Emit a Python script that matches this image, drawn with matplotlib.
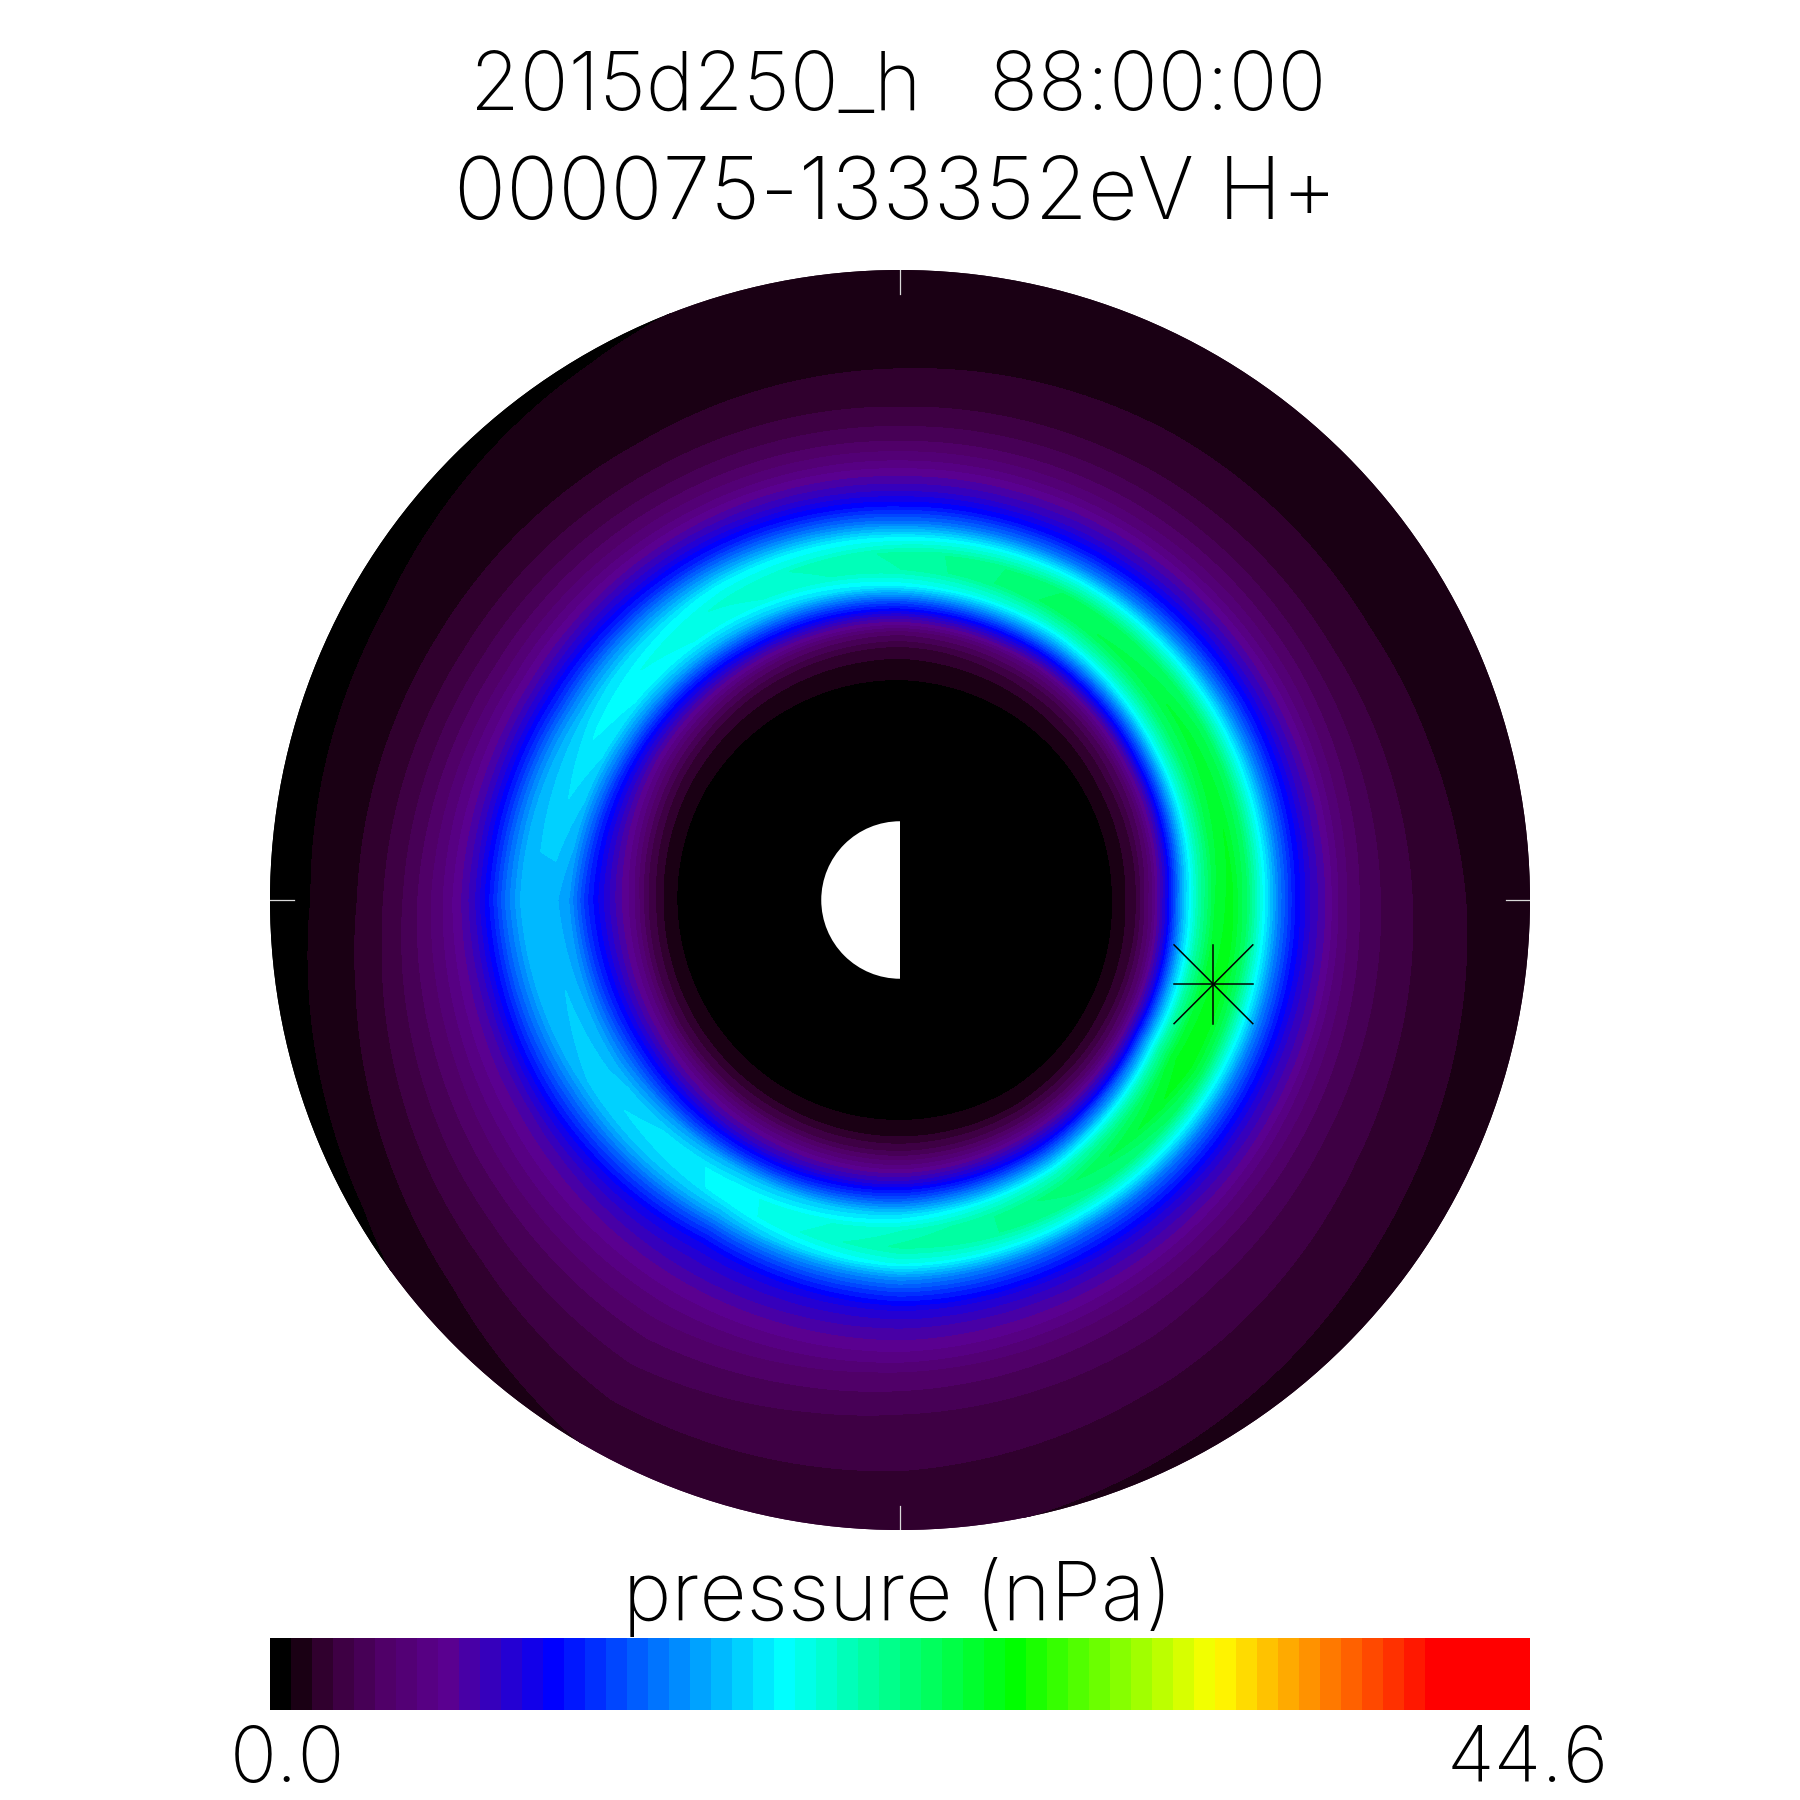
import numpy as np
import matplotlib
matplotlib.use("Agg")
import matplotlib.pyplot as plt
from matplotlib.patches import Circle, Wedge
from matplotlib.path import Path

title1 = "2015d250_h   88:00:00"
title2 = "000075-133352eV H+"
bar_label = "pressure (nPa)"
pmin = 0.0
pmax = 44.6
nlev = 60

# radius in Earth radii
radii = [1, 2, 2.6, 2.8, 3.0, 3.2, 3.4, 3.6, 3.8, 4.0, 4.2, 4.4, 4.6, 4.8, 5.0, 5.2, 5.4, 5.6, 5.8, 6.0, 6.3, 6.6, 7.0, 7.5, 8.0]
angles = [0, 30, 60, 90, 120, 150, 180, 210, 240, 270, 300, 330]

# pressure (nPa) along each angle
p000 = [0, 0, .40, 1.1, 2.2, 5.0, 9.5, 16, 21, 24.5, 25.6, 23, 18.5, 14, 10.5, 8.2, 6.6, 4.8, 3.8, 3.2, 2.5, 2.1, 1.65, 1.2, .90]
p030 = [0, 0, .35, 1.0, 1.9, 3.8, 7.5, 13, 19, 23, 24.8, 23.5, 19, 14.5, 10.8, 8.4, 6.6, 5.0, 3.9, 3.1, 2.3, 1.85, 1.35, 1.05, .85]
p060 = [0, 0, .30, .85, 1.5, 2.7, 5.2, 9.5, 15, 20, 23.5, 23.2, 19, 14, 10.5, 8.2, 6.6, 5.0, 3.9, 3.1, 2.25, 1.8, 1.3, 1.0, .85]
p090 = [0, 0, .30, .74, 1.2, 2.0, 4.0, 7.8, 12.5, 18, 20.8, 21, 17.8, 13.5, 10.2, 8.0, 6.5, 5.0, 3.8, 3.0, 2.1, 1.7, 1.1, .95, .85]
p120 = [0, 0, .25, .70, 1.2, 2.2, 4.2, 7.5, 11.5, 16, 19, 19.5, 18, 14.5, 11, 8.6, 6.8, 5.2, 4.0, 3.1, 2.2, 1.6, 1.0, .85, .70]
p150 = [0, 0, .20, .60, 1.2, 2.4, 4.5, 7.0, 10, 14, 17.5, 18, 16.8, 14.5, 11.5, 9.0, 7.0, 5.5, 4.3, 3.4, 2.4, 1.75, 1.05, .75, .50]
p180 = [0, 0, .20, .60, 1.4, 3.0, 5.5, 7.2, 9.2, 11.5, 14.8, 15.9, 16.2, 15.8, 13.5, 10.5, 8.0, 6.4, 5.2, 4.2, 3.0, 2.1, 1.25, .72, .30]
p210 = [0, 0, .25, .65, 1.35, 2.8, 5.5, 7.8, 10.5, 13.5, 16, 16.8, 16.3, 14, 11.5, 9.2, 7.4, 6.3, 5.4, 4.6, 3.6, 2.85, 2.0, 1.2, .55]
p240 = [0, 0, .30, .70, 1.4, 3.0, 5.6, 8.0, 11.5, 16, 18.3, 18, 15.5, 12.3, 9.8, 8.4, 7.5, 6.5, 5.7, 4.9, 4.0, 3.3, 2.65, 2.0, 1.5]
p270 = [0, 0, .30, .74, 1.4, 3.0, 5.5, 8.5, 12.5, 17, 20, 21, 18.8, 14.5, 11.5, 9.0, 7.6, 6.6, 5.6, 4.4, 3.5, 2.8, 2.45, 2.0, 1.6]
p300 = [0, 0, .30, .75, 1.5, 3.4, 6.5, 10, 15, 20, 22.8, 22, 18, 13.5, 10.8, 8.6, 7.2, 6.0, 4.8, 3.9, 3.1, 2.7, 2.2, 1.7, 1.3]
p330 = [0, 0, .35, .90, 1.9, 4.2, 8.5, 15, 21, 25, 26, 23.5, 18.5, 14, 10.7, 8.4, 6.9, 5.3, 4.2, 3.4, 2.7, 2.3, 1.9, 1.4, 1.1]

star_x = 3.98
star_y = -1.07

# colour table: level number -> colour
stop_lev = [0, 1, 2, 3, 5, 8, 13, 24, 35, 44.5, 55, 59]
stop_rgb = [(0, 0, 0), (26, 0, 20), (48, 0, 46), (62, 0, 68), (80, 0, 104), (90, 0, 144),
            (0, 0, 255), (0, 255, 255), (0, 255, 0), (255, 255, 0), (255, 0, 0), (255, 0, 0)]
stop_rgb = np.array(stop_rgb) / 255.0
colors = [tuple(np.interp(i, stop_lev, stop_rgb[:, k]) for k in range(3)) for i in range(nlev)]
levels = np.linspace(pmin, pmax, nlev + 1)

table = np.array([p000, p030, p060, p090, p120, p150, p180, p210, p240, p270, p300, p330, p000])
theta = np.radians(angles + [360])

fig = plt.figure(figsize=(18, 18), dpi=100)
plt.rcParams['font.family'] = ['Inter', 'DejaVu Sans']

rect = [270 / 1800, 270 / 1800, 1260 / 1800, 1260 / 1800]
ax = fig.add_axes(rect, projection='polar')
cs = ax.contourf(theta, np.array(radii), table.T, levels=levels, colors=colors)

# the closing segment of a polygon never gets curved by the polar transform,
# so turn it into a normal line and ask for curved edges
new_paths = []
for p in cs.get_paths():
    if len(p.vertices) == 0:
        new_paths.append(p)
        continue
    v = p.vertices.copy()
    c = p.codes.copy()
    start = 0
    for i in range(len(c)):
        if c[i] == Path.MOVETO:
            start = i
        elif c[i] == Path.CLOSEPOLY:
            v[i] = v[start]
            c[i] = Path.LINETO
    new_paths.append(Path(v, c, _interpolation_steps=40))
cs.set_paths(new_paths)
cs.set_edgecolor('face')
cs.set_linewidth(0.3)
ax.set_rlim(0, 8)
ax.set_axis_off()

ax2 = fig.add_axes(rect)
ax2.set_xlim(-8, 8)
ax2.set_ylim(-8, 8)
ax2.set_axis_off()
ax2.add_patch(Circle((0, 0), 1.02, color='black', lw=0))
ax2.add_patch(Wedge((0, 0), 1.0, 90, 270, color='white', lw=0))
tick = 0.31
tick_c = '#d9d9d9'
ax2.plot([-8, -8 + tick], [0, 0], color=tick_c, lw=0.9)
ax2.plot([8 - tick, 8], [0, 0], color=tick_c, lw=0.9)
ax2.plot([0, 0], [-8, -8 + tick], color=tick_c, lw=0.9)
ax2.plot([0, 0], [8 - tick, 8], color=tick_c, lw=0.9)
s = 0.5
ax2.plot([star_x - s, star_x + s], [star_y, star_y], color='black', lw=1.1)
ax2.plot([star_x, star_x], [star_y - s, star_y + s], color='black', lw=1.1)
ax2.plot([star_x - s, star_x + s], [star_y - s, star_y + s], color='black', lw=1.1)
ax2.plot([star_x - s, star_x + s], [star_y + s, star_y - s], color='black', lw=1.1)

cax = fig.add_axes([270 / 1800, 90 / 1800, 1260 / 1800, 72 / 1800])
cax.pcolormesh(levels, [0, 1], np.arange(nlev).reshape(1, -1) + 0.5, cmap=matplotlib.colors.ListedColormap(colors),
               vmin=0, vmax=nlev)
cax.set_axis_off()

fig.text(898 / 1800, 1 - 110 / 1800, title1, ha='center', va='baseline', fontsize=58, fontweight='light')
fig.text(896 / 1800, 1 - 218 / 1800, title2, ha='center', va='baseline', fontsize=62, fontweight='light')
fig.text(898 / 1800, 1 - 1620 / 1800, bar_label, ha='center', va='baseline', fontsize=59, fontweight='light', zorder=5)
fig.text(287 / 1800, 1 - 1782 / 1800, "%.1f" % pmin, ha='center', va='baseline', fontsize=56, fontweight='light')
fig.text(1528 / 1800, 1 - 1782 / 1800, "%.1f" % pmax, ha='center', va='baseline', fontsize=56, fontweight='light')

fig.savefig('out.png', dpi=100, facecolor='white')
